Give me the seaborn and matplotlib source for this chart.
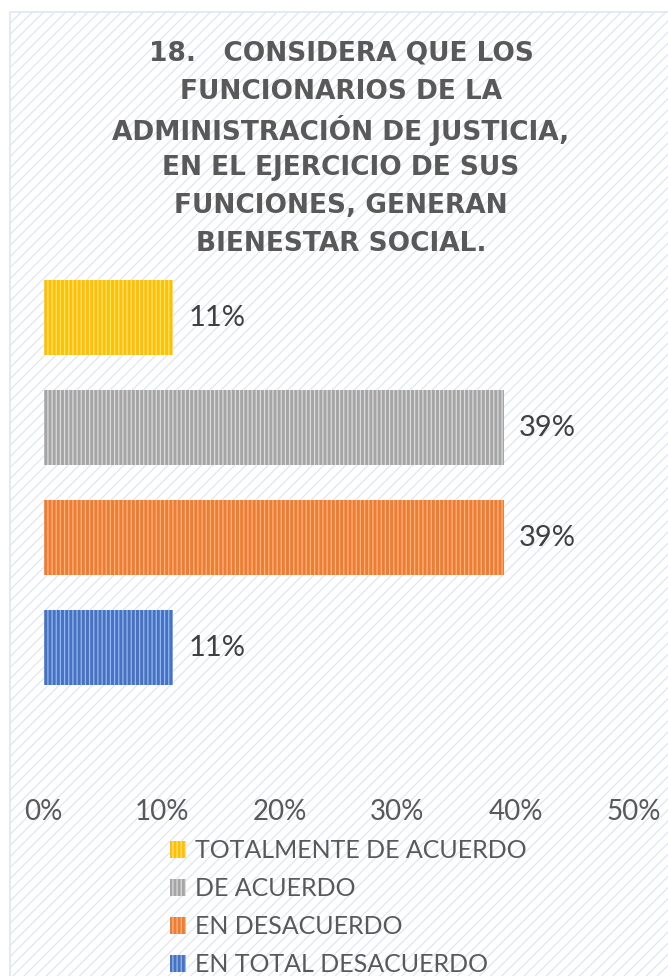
import numpy as np
import matplotlib
matplotlib.use("Agg")
import matplotlib.pyplot as plt
import seaborn as sns
from matplotlib.patches import Patch, Rectangle
from matplotlib.ticker import PercentFormatter

# datos
categorias = ["TOTALMENTE DE ACUERDO", "DE ACUERDO", "EN DESACUERDO", "EN TOTAL DESACUERDO"]
valores = [0.11, 0.39, 0.39, 0.11]
colores = ["#FFC000", "#A5A5A5", "#ED7D31", "#4472C4"]
rayas = ["#FFE28A", "#DCDCDC", "#F8B48A", "#9DB6E4"]
ticks = [0.0, 0.1, 0.2, 0.3, 0.4, 0.5]
titulo = ["18.   CONSIDERA QUE LOS", "FUNCIONARIOS DE LA", "ADMINISTRACIÓN DE JUSTICIA,",
          "EN EL EJERCICIO DE SUS", "FUNCIONES, GENERAN", "BIENESTAR SOCIAL."]

sns.set_theme(style="white")
plt.rcParams['font.family'] = ['Lato', 'DejaVu Sans']
plt.rcParams['hatch.linewidth'] = 0.9

W, H = 668, 976
fig = plt.figure(figsize=(W / 100, H / 100), dpi=100)
fig.patch.set_facecolor("white")

# fondo con rayado diagonal y borde
fondo = Rectangle((10 / W, -0.1), 1.2, 1.1 - 12 / H, transform=fig.transFigure,
                  facecolor="white", edgecolor="#DFE6F3", hatch="///", lw=1.2, zorder=-5)
fig.patches.append(fondo)

ax = fig.add_axes([43.5 / W, 1 - 792 / H, 590 / W, (792 - 262.5) / H])
ax.set_facecolor("none")
sns.barplot(x=valores, y=categorias, hue=categorias, palette=colores, orient="h",
            width=0.68, legend=False, ax=ax, saturation=1)

for c, col in zip(ax.containers, rayas):
    for p in c:
        p.set_hatch("||||")
        p.set_edgecolor(col)
        p.set_linewidth(0)
    ax.bar_label(c, fmt=lambda v: f"{v:.0%}", padding=11, fontsize=21, color="#404040")

ax.set_xlim(0, 0.5)
ax.set_ylim((792 - 317.5) / 110, -0.5)
ax.set_xticks(ticks)
ax.xaxis.set_major_formatter(PercentFormatter(1.0, decimals=0))
ax.tick_params(axis="x", length=0, pad=5, labelsize=20, labelcolor="#595959")
ax.set_yticks([])
ax.set_xlabel("")
ax.set_ylabel("")
sns.despine(ax=ax, left=True, bottom=True)

# titulo, una linea cada vez
for i, linea in enumerate(titulo):
    fig.text(341 / W, 1 - (51 + i * 38) / H, linea, ha="center", va="center_baseline",
             fontsize=19, fontweight="bold", color="#595959",
             family=["DejaVu Sans"])

handles = [Patch(facecolor=f, edgecolor=r, hatch="||||", lw=0) for f, r in zip(colores, rayas)]
fig.legend(handles, categorias, loc="upper left", bbox_to_anchor=(170 / W, 1 - 839 / H),
           frameon=False, fontsize=18, labelcolor="#595959", handlelength=0.65,
           handleheight=0.65, handletextpad=0.35, labelspacing=0.6, borderpad=0,
           borderaxespad=0)

fig.savefig("out.png", dpi=100, facecolor="white")
